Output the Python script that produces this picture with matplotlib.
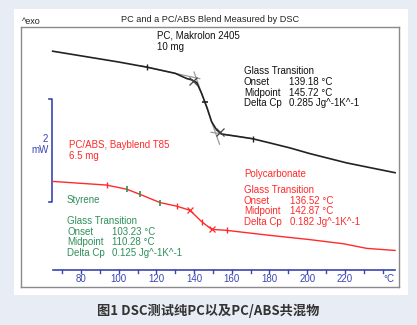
import matplotlib
matplotlib.use("Agg")
import matplotlib.pyplot as plt
from matplotlib.patches import Rectangle
import numpy as np

# DSC heat flow traces (temperature in °C, heat flow in mW, exo up)
temp_pc = [65, 80, 100, 115, 130, 136, 139, 141.4, 144, 147, 149.3, 152, 154.6,
           164, 171, 180, 191, 201.5, 221, 246.6]
hf_pc = [4.83, 4.74, 4.62, 4.52, 4.40, 4.30, 4.27, 4.22, 4.01, 3.72, 3.46, 3.30, 3.22,
         3.17, 3.13, 3.05, 2.95, 2.84, 2.66, 2.47]

temp_blend = [65.3, 93.6, 104.2, 111.3, 121.9, 130.8, 137.8, 144, 149.3, 157.3,
              178.5, 201.5, 219.2, 231.6, 246.6]
hf_blend = [2.30, 2.23, 2.15, 2.05, 1.89, 1.82, 1.74, 1.52, 1.37, 1.35,
            1.26, 1.17, 1.09, 1.00, 0.96]

# evaluation marks
pc_limits = [115, 171]
pc_tangent_pts = [139.5, 153.5]
pc_midpoint = 145.72
blend_limits = [93.6, 130.8, 144, 157.3]
blend_sty_pts = [104.2, 111.3, 121.9]
blend_pc_pts = [137.8, 149.3]

x_ticks = list(range(70, 250, 10))
x_labels = [80, 100, 120, 140, 160, 180, 200, 220]

BLUE = "#3a46b0"
RED = "#ff2a2a"
GREEN = "#2f8f5b"
FONT = "Liberation Sans"

W, H = 417, 325
fig = plt.figure(figsize=(W / 100, H / 100), dpi=100, facecolor="#e8ecf4")
fig.patches.append(Rectangle((14 / W, 1 - 295 / H), 394 / W, 286 / H,
                             transform=fig.transFigure, facecolor="white",
                             edgecolor="none", zorder=-5))

ax = fig.add_axes([21 / W, 1 - 287 / H, 378 / W, 260 / H])
ax.set_zorder(2)
ax.set_xlim(48.2, 248.7)
ax.set_ylim(0.25, 5.30)
ax.set_xticks([])
ax.set_yticks([])
for s in ax.spines.values():
    s.set_color("#8a8a8a")
    s.set_linewidth(1.0)


def line_through(xs, ys, a, b, lo, hi):
    ya, yb = np.interp([a, b], xs, ys)
    k = (yb - ya) / (b - a)
    t = np.array([lo, hi])
    return t, ya + k * (t - a)


# tangents for the PC step
for a, b, lo, hi in [(115, 130, 112, 143), (144, 149.3, 140, 153.5), (164, 171, 149, 172)]:
    t, y = line_through(temp_pc, hf_pc, a, b, lo, hi)
    ax.plot(t, y, color="#9a9a9a", lw=0.9, zorder=2)

ax.plot(temp_pc, hf_pc, color="#222222", lw=1.2, zorder=3)
ax.plot(temp_blend, hf_blend, color=RED, lw=1.0, zorder=3)

ax.plot(pc_limits, np.interp(pc_limits, temp_pc, hf_pc), ls="none",
        marker="|", ms=5, color="#222222", zorder=4)
ax.plot([pc_midpoint], np.interp([pc_midpoint], temp_pc, hf_pc), ls="none",
        marker="_", ms=4, mew=1.2, color="#222222", zorder=4)
ax.plot(pc_tangent_pts, np.interp(pc_tangent_pts, temp_pc, hf_pc), ls="none",
        marker="x", ms=6, mew=0.9, color="#444444", zorder=4)

ax.plot(blend_limits, np.interp(blend_limits, temp_blend, hf_blend), ls="none",
        marker="|", ms=5, color=RED, zorder=4)
ax.plot(blend_sty_pts, np.interp(blend_sty_pts, temp_blend, hf_blend), ls="none",
        marker="|", ms=4, mew=1.2, color=GREEN, zorder=4)
ax.plot(blend_pc_pts, np.interp(blend_pc_pts, temp_blend, hf_blend), ls="none",
        marker="x", ms=5, mew=0.9, color=RED, zorder=4)

# temperature axis drawn inside the frame
y_axis = 0.58
ax.plot([65, 246.6], [y_axis, y_axis], color=BLUE, lw=1.2, zorder=3)
for t in x_ticks:
    ax.plot([t, t], [y_axis, y_axis - 0.05], color=BLUE, lw=1.0, zorder=3)
for t in x_labels:
    ax.text(t, 0.40, str(t), color=BLUE, fontsize=7, family=FONT,
            ha="center", va="center")
ax.text(243.5, 0.40, "°C", color=BLUE, fontsize=7, family=FONT,
        ha="center", va="center")

# 2 mW scale bar
ax.plot([63.2, 64.6, 64.6, 63.2], [3.90, 3.90, 1.90, 1.90], color=BLUE, lw=1.2)


def ftext(x, y, s, color="black", size=7, **kw):
    fig.text(x / W, 1 - y / H, s, color=color, fontsize=size, family=FONT,
             va="center", **kw)


ftext(48, 139, "2", BLUE, ha="right")
ftext(49, 150, "mW", BLUE, ha="right")

ftext(22, 21, "^exo", "#222222", 6.5)
ftext(210, 20, "PC and a PC/ABS Blend Measured by DSC", "#222222", 6.6, ha="center")

ftext(157, 36, "PC, Makrolon 2405", "#111111")
ftext(157, 47, "10 mg", "#111111")

rows = ["Glass Transition", "Onset", "Midpoint", "Delta Cp"]
pc_vals = ["", "139.18 °C", "145.72 °C", "0.285 Jg^-1K^-1"]
sty_vals = ["", "103.23 °C", "110.28 °C", "0.125 Jg^-1K^-1"]
poly_vals = ["", "136.52 °C", "142.87 °C", "0.182 Jg^-1K^-1"]


def block(x0, x1, y0, vals, color):
    for i, (r, v) in enumerate(zip(rows, vals)):
        y = y0 + i * 10.6
        ftext(x0, y, r, color)
        if v:
            ftext(x1, y, v, color)


block(244, 289, 71.5, pc_vals, "#111111")

ftext(69, 145, "PC/ABS, Bayblend T85", RED)
ftext(69, 156, "6.5 mg", RED)

ftext(67, 200, "Styrene", GREEN)
block(67, 112, 221, sty_vals, GREEN)

ftext(244, 174, "Polycarbonate", RED)
block(244, 290, 190, poly_vals, RED)

fig.text(208 / W, 1 - 311 / H, "图1 DSC测试纯PC以及PC/ABS共混物",
         family=["Noto Sans CJK SC", "DejaVu Sans"], fontsize=9.5,
         fontweight="bold", color="#333333", ha="center", va="center")

fig.savefig("out.png", dpi=100, facecolor=fig.get_facecolor())
